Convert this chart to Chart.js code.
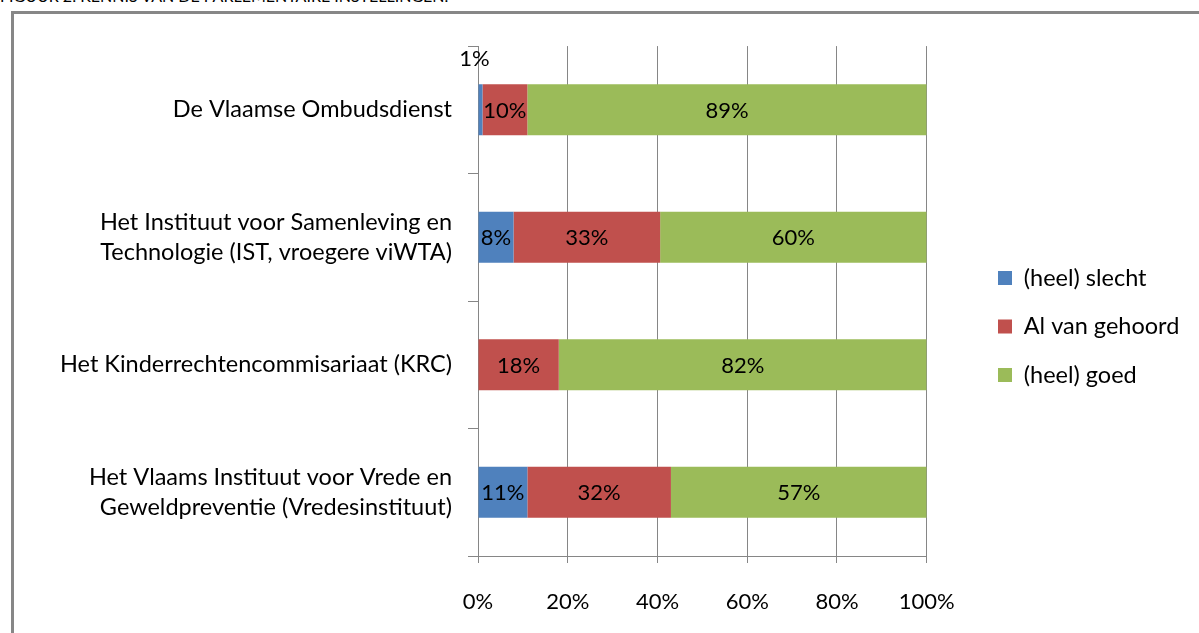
<!DOCTYPE html>
<html lang="nl">

<head>
    <meta charset="UTF-8">
    <title>Kennis van de parlementaire instellingen</title>
    <script src="https://cdn.jsdelivr.net/npm/chart.js"></script>
    <style>
        body {
            margin: 0;
            background-color: #ffffff;
            width: 1199px;
            height: 633px;
            overflow: hidden;
            position: relative;
            font-family: 'Lato', sans-serif;
        }

        /* caption sits mostly above the visible page, as in the scan */
        .caption {
            position: absolute;
            left: 0;
            top: -12px;
            font-size: 16px;
            line-height: 16px;
            white-space: nowrap;
            color: #000;
        }

        .frame {
            position: absolute;
            left: 11px;
            top: 11px;
            width: 1300px;
            height: 700px;
            border: 3px solid #878787;
        }

        #kennisChart {
            position: absolute;
            left: 0;
            top: 0;
        }
    </style>
</head>

<body>
    <div class="caption">FIGUUR 2: KENNIS VAN DE PARLEMENTAIRE INSTELLINGEN.</div>
    <div class="frame"></div>
    <canvas id="kennisChart" width="1199" height="633"></canvas>

    <script>
        // Data
        const categories = [
            ['De Vlaamse Ombudsdienst'],
            ['Het Instituut voor Samenleving en', 'Technologie (IST, vroegere viWTA)'],
            ['Het Kinderrechtencommisariaat (KRC)'],
            ['Het Vlaams Instituut voor Vrede en', 'Geweldpreventie (Vredesinstituut)']
        ];
        const seriesNames = ['(heel) slecht', 'Al van gehoord', '(heel) goed'];
        const slecht = [1, 8, 0, 11];
        const gehoord = [10, 33, 18, 32];
        const goed = [89, 60, 82, 57];
        const xTicks = [0, 20, 40, 60, 80, 100];

        const colors = ['#4f81bd', '#c0504d', '#9bbb59'];
        const FONT = 'Lato';
        const TEXT_SIZE = 23.5;
        const NUM_SIZE = 22;
        const GRID = '#868686';

        // 100% stacked: each row is scaled to its own total
        const rowTotals = categories.map((c, i) => slecht[i] + gehoord[i] + goed[i]);
        const share = arr => arr.map((v, i) => v / rowTotals[i] * 100);

        const datasets = [slecht, gehoord, goed].map((arr, k) => ({
            label: seriesNames[k],
            data: share(arr),
            shown: arr,
            backgroundColor: colors[k],
            borderWidth: 0,
            barPercentage: 0.4,
            categoryPercentage: 1
        }));

        // value labels inside the bars (small ones go above the bar)
        const barLabels = {
            id: 'barLabels',
            afterDatasetsDraw(chart) {
                const ctx = chart.ctx;
                ctx.save();
                ctx.font = NUM_SIZE + 'px ' + FONT;
                ctx.fillStyle = '#000';
                ctx.textAlign = 'center';
                ctx.textBaseline = 'middle';
                chart.data.datasets.forEach((ds, i) => {
                    chart.getDatasetMeta(i).data.forEach((bar, j) => {
                        const v = ds.shown[j];
                        if (!v) return;
                        const txt = v + '%';
                        const w = Math.abs(bar.x - bar.base);
                        const cx = (bar.x + bar.base) / 2;
                        if (ctx.measureText(txt).width > w + 4) {
                            ctx.fillText(txt, cx - 6, bar.y - bar.height / 2 - 25);
                        } else {
                            ctx.fillText(txt, cx, bar.y + 1);
                        }
                    });
                });
                ctx.restore();
            }
        };

        // push the legend further right, like in the original
        const legendSpot = {
            id: 'legendSpot',
            afterLayout(chart) {
                const lg = chart.legend;
                const dx = 998 - lg.options.labels.padding - lg.left;
                lg.left += dx;
                lg.right += dx;
                lg.top -= 10;
                lg.bottom -= 10;
            }
        };

        new Chart(document.getElementById('kennisChart'), {
            type: 'bar',
            data: { labels: categories, datasets: datasets },
            options: {
                indexAxis: 'y',
                responsive: false,
                animation: false,
                layout: { padding: { left: 20, top: 40, right: 56, bottom: 0 } },
                scales: {
                    x: {
                        stacked: true,
                        min: 0,
                        max: 100,
                        afterBuildTicks: scale => { scale.ticks = xTicks.map(v => ({ value: v })); },
                        afterFit: scale => { scale.height = 77; },
                        grid: { color: GRID, tickLength: 7 },
                        border: { color: GRID },
                        ticks: {
                            color: '#000',
                            padding: 26,
                            font: { family: FONT, size: NUM_SIZE },
                            callback: v => v + '%'
                        }
                    },
                    y: {
                        stacked: true,
                        afterFit: scale => { scale.width = 458; },
                        grid: { drawOnChartArea: false, offset: true, color: GRID, tickLength: 10 },
                        border: { color: GRID },
                        ticks: {
                            color: '#000',
                            padding: 16,
                            font: { family: FONT, size: TEXT_SIZE, lineHeight: 1.28 }
                        }
                    }
                },
                plugins: {
                    legend: {
                        position: 'right',
                        labels: {
                            color: '#000',
                            boxWidth: 14,
                            boxHeight: 14,
                            padding: 25,
                            font: { family: FONT, size: TEXT_SIZE }
                        }
                    },
                    tooltip: { enabled: false }
                }
            },
            plugins: [barLabels, legendSpot]
        });
    </script>
</body>

</html>
